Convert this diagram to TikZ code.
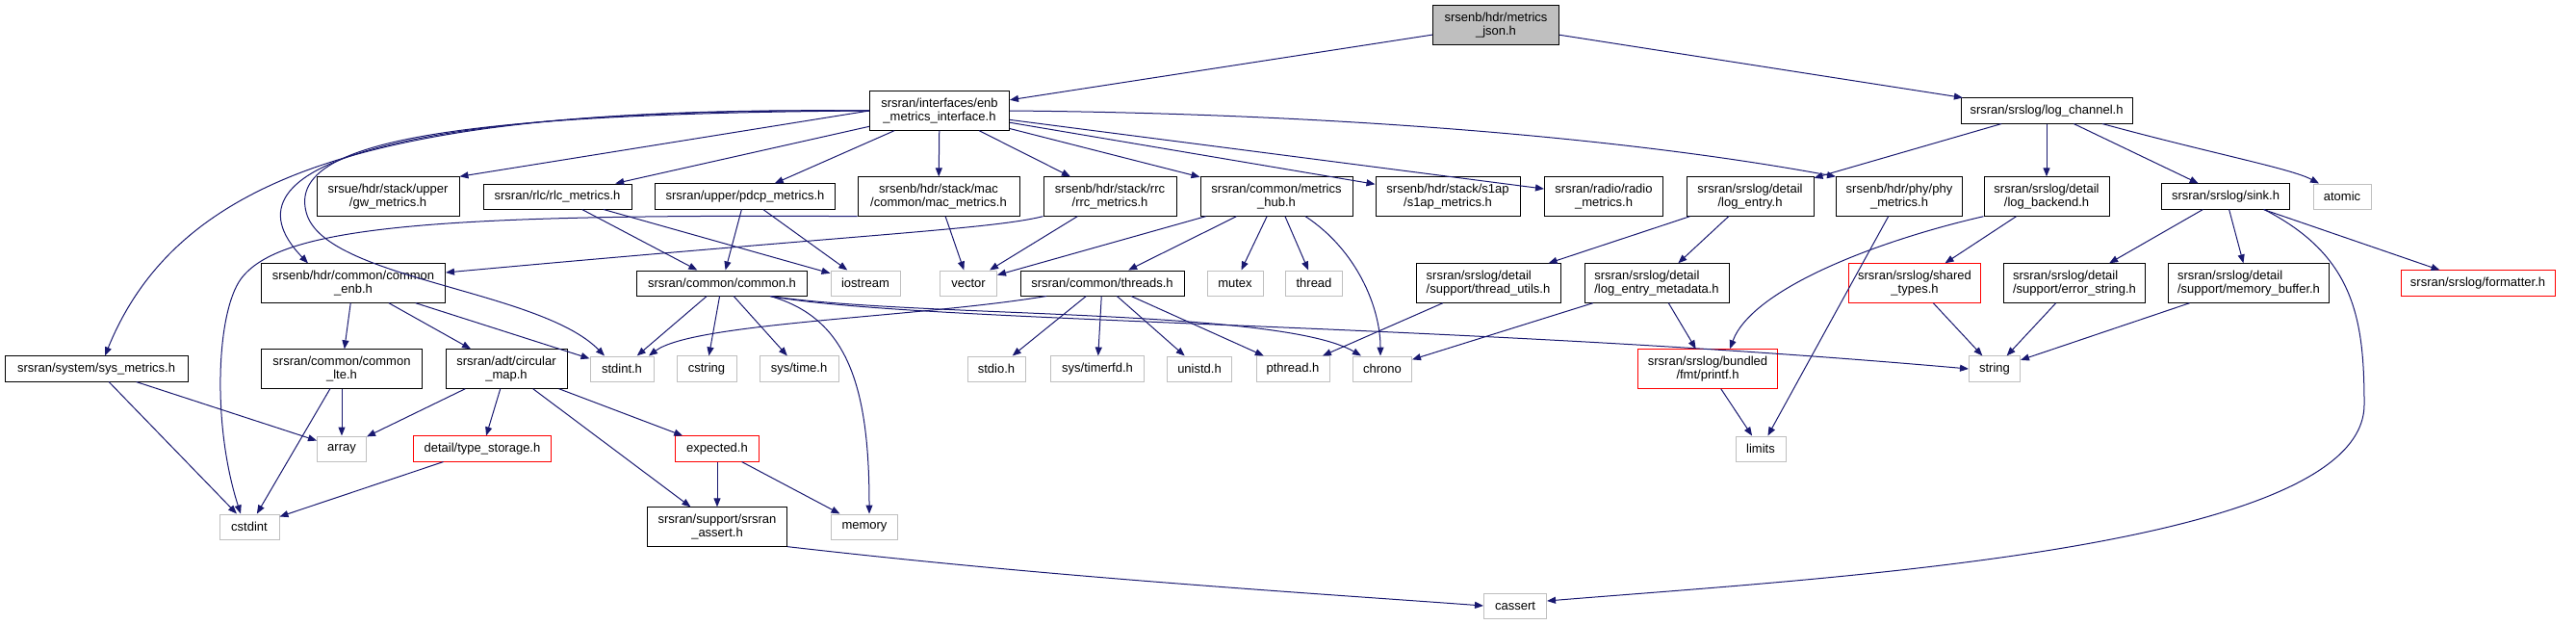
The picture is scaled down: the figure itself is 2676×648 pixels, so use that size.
\documentclass[tikz,border=0pt]{standalone}
\usepackage{fontspec}
\setmainfont{Liberation Sans}
\usepackage{tikz}
\usetikzlibrary{arrows.meta}
\definecolor{edgeblue}{HTML}{191970}
\definecolor{sysgray}{HTML}{BFBFBF}
\definecolor{rootgray}{HTML}{BFBFBF}
\definecolor{cutred}{HTML}{FF0000}
\begin{document}
\begin{tikzpicture}[x=1pt,y=1pt,font=\fontsize{13}{14.3}\selectfont,
  hdr/.style={draw=black,line width=1pt,fill=white,align=center,inner xsep=4pt,inner ysep=7pt,minimum height=26pt},
  lhdr/.style={hdr,align=left},
  syshdr/.style={hdr,draw=sysgray},
  cuthdr/.style={hdr,draw=cutred},
  inc/.style={draw=edgeblue,line width=1pt,-{Triangle[length=9pt,width=7pt]}}]
\useasboundingbox (0,0) rectangle (2676,-648);
\node[hdr,fill=rootgray,minimum width=131pt] (json) at (1554,-26) {srsenb/hdr/metrics\\\_json.h};
\node[hdr,minimum width=145pt] (iface) at (976,-115) {srsran/interfaces/enb\\\_metrics\_interface.h};
\node[hdr,minimum width=178pt] (logch) at (2126,-115) {srsran/srslog/log\_channel.h};
\node[hdr,minimum width=148pt] (gw) at (403,-204) {srsue/hdr/stack/upper\\/gw\_metrics.h};
\node[hdr,minimum width=154pt] (rlc) at (579,-204) {srsran/rlc/rlc\_metrics.h};
\node[hdr,minimum width=187pt] (pdcp) at (774,-204) {srsran/upper/pdcp\_metrics.h};
\node[hdr,minimum width=168pt] (mac) at (975,-204) {srsenb/hdr/stack/mac\\/common/mac\_metrics.h};
\node[hdr,minimum width=138pt] (rrc) at (1153,-204) {srsenb/hdr/stack/rrc\\/rrc\_metrics.h};
\node[hdr,minimum width=158pt] (hub) at (1326,-204) {srsran/common/metrics\\\_hub.h};
\node[hdr,minimum width=150pt] (s1ap) at (1504,-204) {srsenb/hdr/stack/s1ap\\/s1ap\_metrics.h};
\node[hdr,minimum width=123pt] (radio) at (1666,-204) {srsran/radio/radio\\\_metrics.h};
\node[hdr,minimum width=132pt] (logentry) at (1818,-204) {srsran/srslog/detail\\/log\_entry.h};
\node[hdr,minimum width=131pt] (phy) at (1973,-204) {srsenb/hdr/phy/phy\\\_metrics.h};
\node[hdr,minimum width=130pt] (logbackend) at (2126,-204) {srsran/srslog/detail\\/log\_backend.h};
\node[hdr,minimum width=133pt] (sink) at (2312,-204) {srsran/srslog/sink.h};
\node[syshdr,minimum width=60pt] (atomic) at (2433,-204) {atomic};
\node[hdr,minimum width=191pt] (commonenb) at (367,-294) {srsenb/hdr/common/common\\\_enb.h};
\node[hdr,minimum width=177pt] (common) at (750,-294) {srsran/common/common.h};
\node[syshdr,minimum width=72pt] (iostream) at (899,-294) {iostream};
\node[syshdr,minimum width=59pt] (vector) at (1006,-294) {vector};
\node[hdr,minimum width=170pt] (threads) at (1145,-294) {srsran/common/threads.h};
\node[syshdr,minimum width=58pt] (mutex) at (1283,-294) {mutex};
\node[syshdr,minimum width=59pt] (thread) at (1365,-294) {thread};
\node[lhdr,minimum width=150pt] (threadutils) at (1546,-294) {srsran/srslog/detail\\/support/thread\_utils.h};
\node[lhdr,minimum width=150pt] (metadata) at (1721,-294) {srsran/srslog/detail\\/log\_entry\_metadata.h};
\node[cuthdr,minimum width=137pt] (sharedtypes) at (1989,-294) {srsran/srslog/shared\\\_types.h};
\node[lhdr,minimum width=147pt] (errorstring) at (2155,-294) {srsran/srslog/detail\\/support/error\_string.h};
\node[lhdr,minimum width=167pt] (memorybuffer) at (2336,-294) {srsran/srslog/detail\\/support/memory\_buffer.h};
\node[cuthdr,minimum width=160pt] (formatter) at (2574,-294) {srsran/srslog/formatter.h};
\node[hdr,minimum width=190pt] (sysmetrics) at (100,-383) {srsran/system/sys\_metrics.h};
\node[hdr,minimum width=167pt] (commonlte) at (355,-383) {srsran/common/common\\\_lte.h};
\node[hdr,minimum width=126pt] (circmap) at (526,-383) {srsran/adt/circular\\\_map.h};
\node[syshdr,minimum width=66pt] (stdint) at (646,-383) {stdint.h};
\node[syshdr,minimum width=62pt] (cstring) at (734,-383) {cstring};
\node[syshdr,minimum width=82pt] (systime) at (830,-383) {sys/time.h};
\node[syshdr,minimum width=60pt] (stdio) at (1035,-383) {stdio.h};
\node[syshdr,minimum width=97pt] (timerfd) at (1140,-383) {sys/timerfd.h};
\node[syshdr,minimum width=67pt] (unistd) at (1246,-383) {unistd.h};
\node[syshdr,minimum width=76pt] (pthread) at (1343,-383) {pthread.h};
\node[syshdr,minimum width=61pt] (chrono) at (1436,-383) {chrono};
\node[cuthdr,minimum width=145pt] (printf) at (1774,-383) {srsran/srslog/bundled\\/fmt/printf.h};
\node[syshdr,minimum width=53pt] (string) at (2072,-383) {string};
\node[syshdr,minimum width=51pt] (array) at (355,-466) {array};
\node[cuthdr,minimum width=143pt] (typestorage) at (501,-466) {detail/type\_storage.h};
\node[cuthdr,minimum width=87pt] (expected) at (745,-466) {expected.h};
\node[syshdr,minimum width=52pt] (limits) at (1829,-466) {limits};
\node[syshdr,minimum width=62pt] (cstdint) at (259,-547) {cstdint};
\node[hdr,minimum width=145pt] (assert) at (745,-547) {srsran/support/srsran\\\_assert.h};
\node[syshdr,minimum width=69pt] (memory) at (898,-547) {memory};
\node[syshdr,minimum width=65pt] (cassert) at (1574,-629) {cassert};
\draw[inc] (json) -- (iface);
\draw[inc] (json) -- (logch);
\draw[inc] (iface.west) -- (gw.north east);
\draw[inc] (iface) -- (rlc);
\draw[inc] (iface) -- (pdcp);
\draw[inc] (iface) -- (mac);
\draw[inc] (iface) -- (rrc);
\draw[inc] (iface) -- (hub);
\draw[inc] (iface) -- (s1ap);
\draw[inc] (iface) -- (radio);
\draw[inc] (iface.east) .. controls (1400,-118) and (1700,-145) .. (phy.north west);
\draw[inc] (iface.west) .. controls (420,-110) and (190,-170) .. ([xshift=9]sysmetrics.north);
\draw[inc] (iface.west) .. controls (420,-112) and (220,-170) .. ([xshift=-47]commonenb.north);
\draw[inc] (iface.west) .. controls (450,-118) and (300,-150) .. (318,-220) .. controls (335,-290) and (560,-300) .. ([xshift=-18]stdint.north);
\draw[inc] (logch) -- (logentry);
\draw[inc] (logch) -- (logbackend);
\draw[inc] (logch) -- (sink);
\draw[inc] ([xshift=58]logch.south) .. controls (2300,-160) and (2380,-175) .. ([xshift=-24]atomic.north);
\draw[inc] (rlc) -- (common);
\draw[inc] (rlc) -- (iostream);
\draw[inc] (pdcp) -- (common);
\draw[inc] (pdcp) -- (iostream);
\draw[inc] (mac) -- (vector);
\draw[inc] (mac.south west) .. controls (450,-222) and (290,-235) .. (250,-290) .. controls (225,-325) and (220,-440) .. ([xshift=-9]cstdint.north);
\draw[inc] (rrc) -- (vector);
\draw[inc] (rrc.south west) .. controls (1030,-238) and (900,-243) .. ([yshift=11]commonenb.east);
\draw[inc] (hub) -- (vector);
\draw[inc] (hub) -- (threads);
\draw[inc] (hub) -- (mutex);
\draw[inc] (hub) -- (thread);
\draw[inc] ([xshift=30]hub.south) .. controls (1410,-260) and (1434,-320) .. ([xshift=-2]chrono.north);
\draw[inc] (logentry) -- (threadutils);
\draw[inc] (logentry) -- (metadata);
\draw[inc] (phy) -- (limits);
\draw[inc] (logbackend.south west) .. controls (1950,-250) and (1820,-300) .. ([xshift=23]printf.north);
\draw[inc] (logbackend) -- (sharedtypes);
\draw[inc] (sink) -- (errorstring);
\draw[inc] (sink) -- (memorybuffer);
\draw[inc] (sink) -- (formatter);
\draw[inc] ([xshift=40]sink.south) .. controls (2445,-265) and (2456,-330) .. (2456,-420) .. controls (2456,-570) and (1900,-600) .. ([yshift=5]cassert.east);
\draw[inc] (commonenb) -- (commonlte);
\draw[inc] (commonenb) -- (circmap);
\draw[inc] (commonenb) -- (stdint);
\draw[inc] (common) -- (stdint);
\draw[inc] (common) -- (cstring);
\draw[inc] (common) -- (systime);
\draw[inc] ([xshift=50]common.south) .. controls (880,-330) and (903,-400) .. ([xshift=5]memory.north);
\draw[inc] ([xshift=50]common.south) .. controls (950,-330) and (1330,-320) .. ([xshift=-22]chrono.north);
\draw[inc] ([xshift=50]common.south) .. controls (950,-335) and (1500,-335) .. (string.west);
\draw[inc] (threads) -- (stdio);
\draw[inc] (threads) -- (timerfd);
\draw[inc] (threads) -- (unistd);
\draw[inc] (threads) -- (pthread);
\draw[inc] ([xshift=-58]threads.south) .. controls (950,-330) and (720,-335) .. ([xshift=28]stdint.north);
\draw[inc] (threadutils) -- (pthread);
\draw[inc] (metadata) -- (chrono);
\draw[inc] (metadata) -- (printf);
\draw[inc] (sharedtypes) -- (string);
\draw[inc] (errorstring) -- (string);
\draw[inc] (memorybuffer) -- (string);
\draw[inc] (sysmetrics) -- (cstdint);
\draw[inc] (sysmetrics) -- (array);
\draw[inc] (commonlte) -- (array);
\draw[inc] (commonlte) -- (cstdint);
\draw[inc] (circmap) -- (array);
\draw[inc] (circmap) -- (typestorage);
\draw[inc] (circmap) -- (assert);
\draw[inc] (circmap) -- (expected);
\draw[inc] (printf) -- (limits);
\draw[inc] (typestorage) -- (cstdint);
\draw[inc] (expected) -- (assert);
\draw[inc] (expected) -- (memory);
\draw[inc] (assert.south east) .. controls (1100,-600) and (1350,-615) .. (cassert.west);
\end{tikzpicture}
\end{document}
